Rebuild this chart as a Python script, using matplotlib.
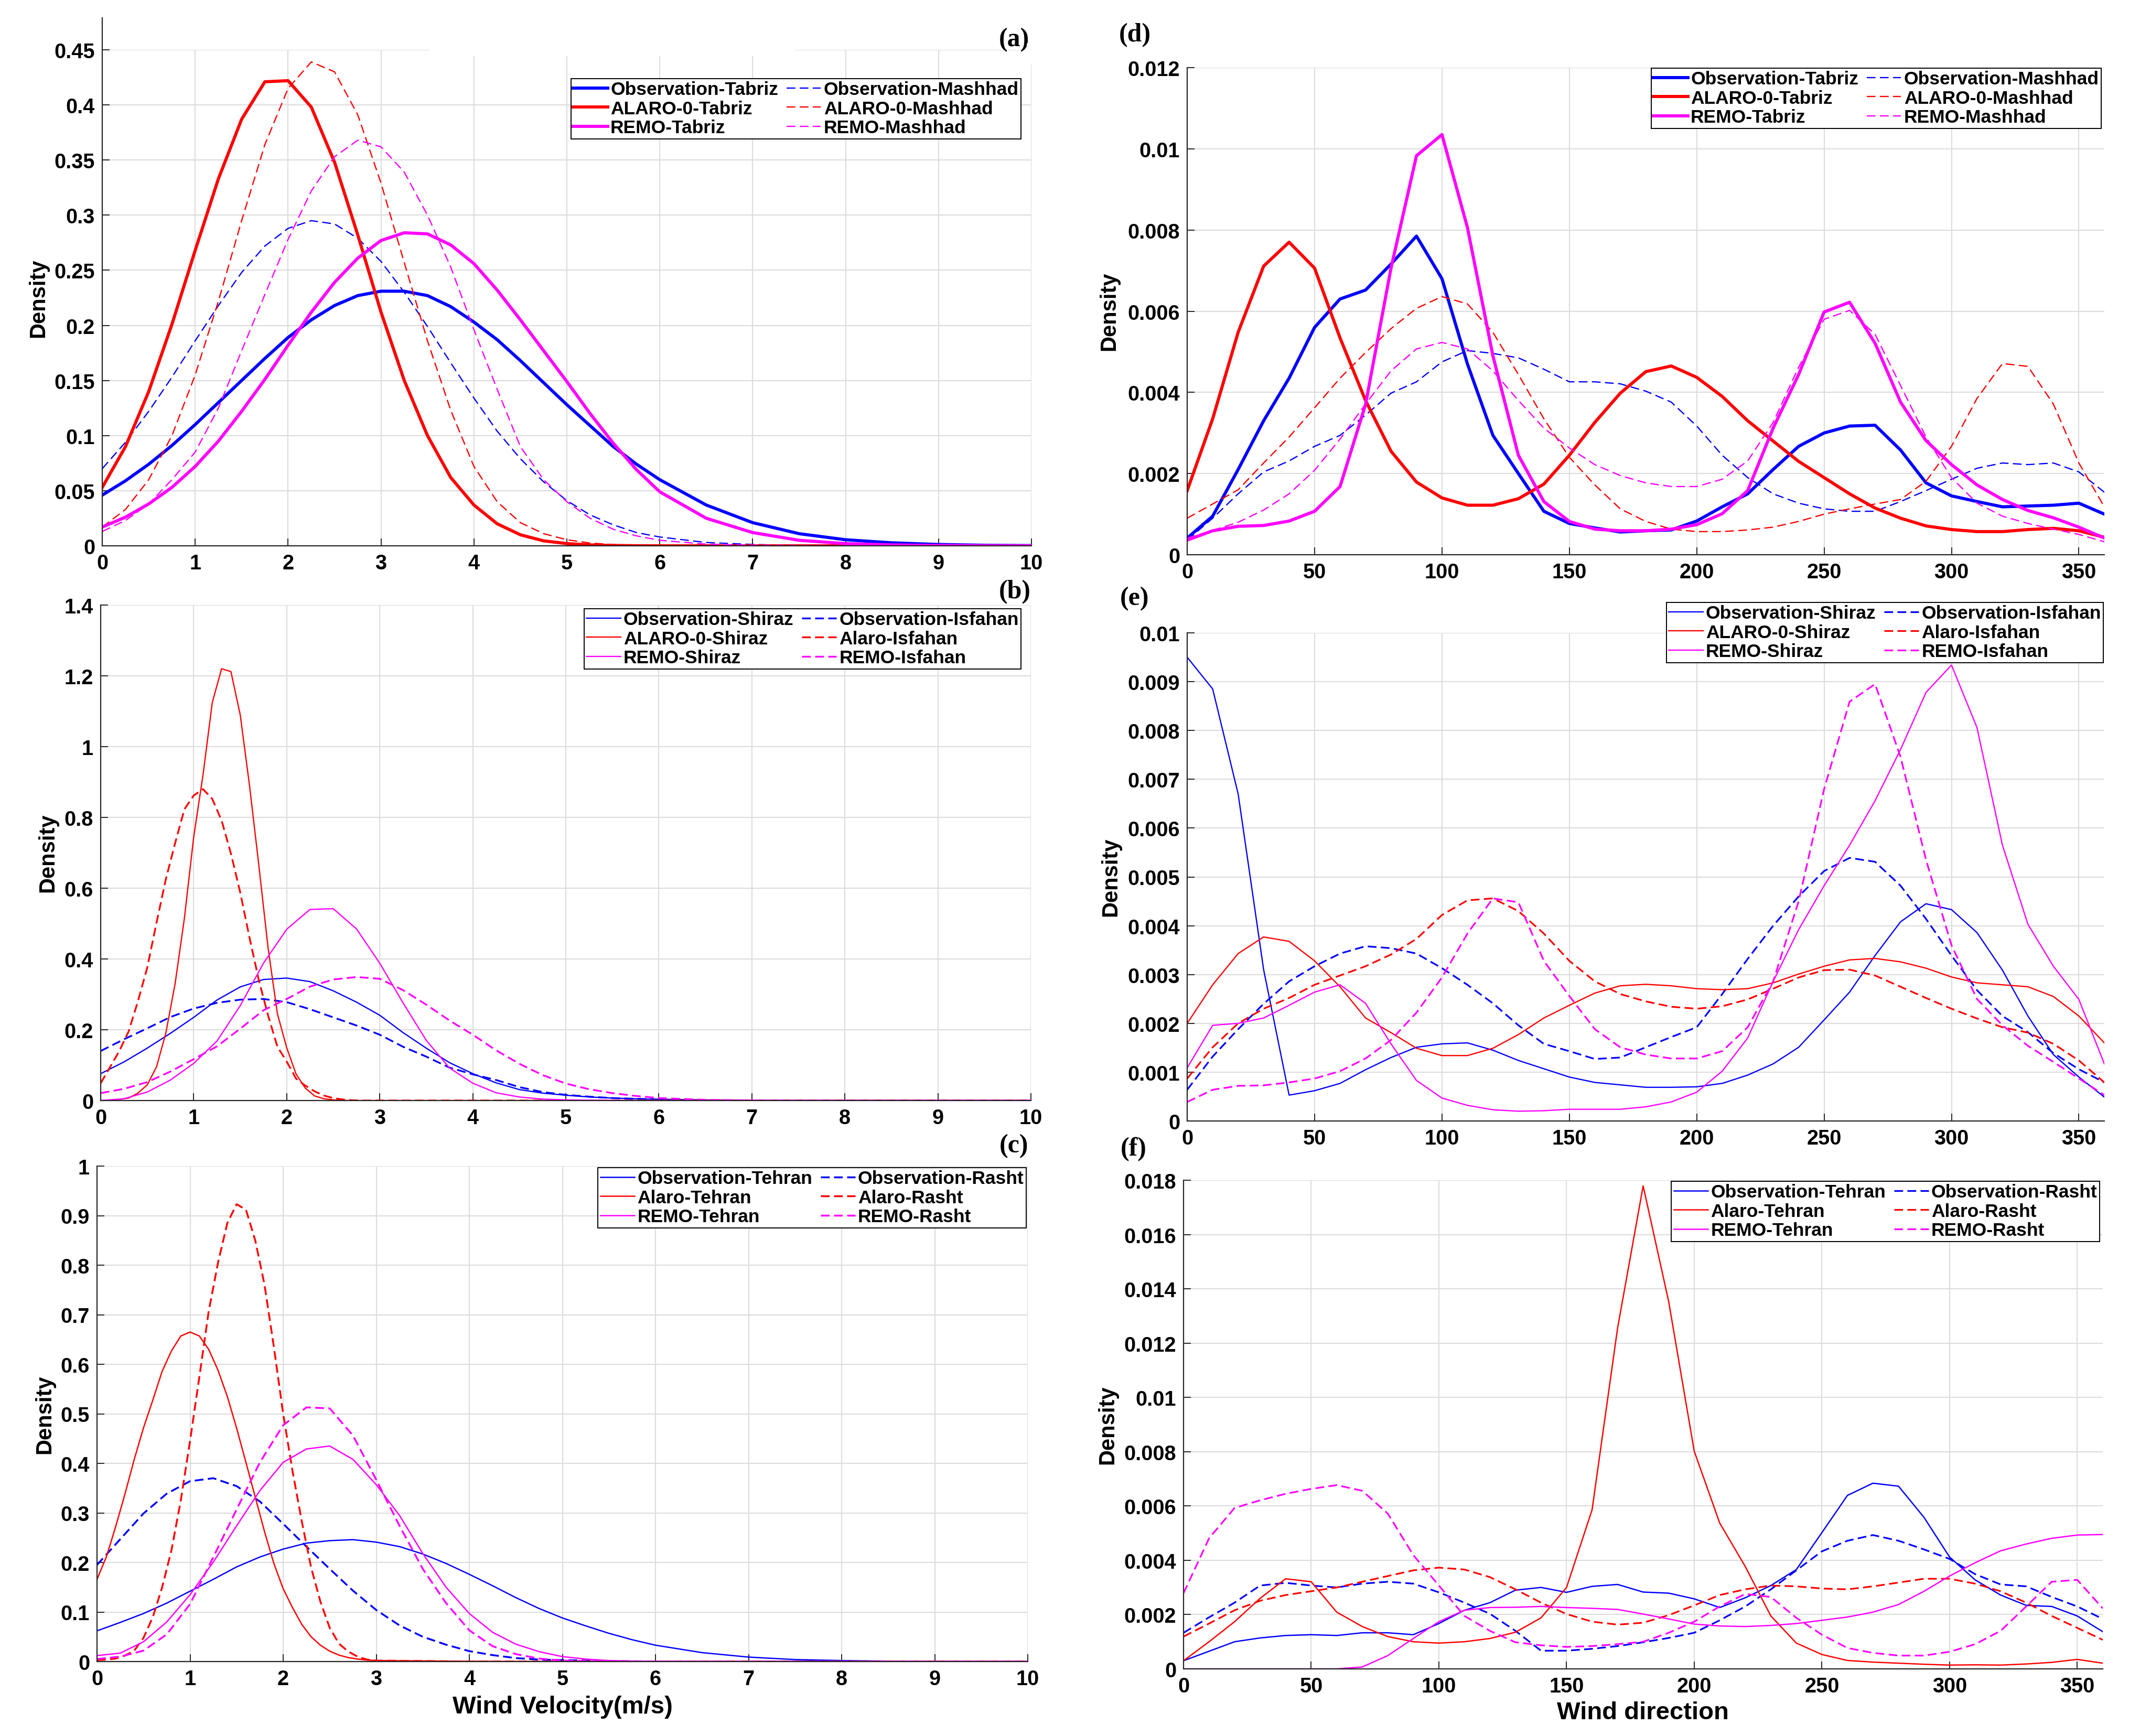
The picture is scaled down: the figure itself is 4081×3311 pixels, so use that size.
import matplotlib
matplotlib.use('Agg')
import matplotlib.pyplot as plt
from matplotlib.lines import Line2D
from matplotlib.patches import Rectangle
from matplotlib.ticker import MultipleLocator, FuncFormatter

# ---------------------------------------------------------------- data
# wind velocity grid (m/s)
VEL_X = [0, 0.25, 0.5, 0.75, 1, 1.25, 1.5, 1.75, 2, 2.25, 2.5, 2.75, 3,
         3.25, 3.5, 3.75, 4, 4.25, 4.5, 4.75, 5, 5.25, 5.5, 5.75, 6,
         6.5, 7, 7.5, 8, 8.5, 9, 9.5, 10]
VEL_FINE = [0, 0.1, 0.2, 0.3, 0.4, 0.5, 0.6, 0.7, 0.8, 0.9, 1.0, 1.1, 1.2,
            1.3, 1.4, 1.5, 1.6, 1.7, 1.8, 1.9, 2.0, 2.1, 2.2, 2.3, 2.4, 2.5,
            2.6, 2.7, 2.8, 2.9, 3.0, 4, 5, 6, 7, 8, 9, 10]
# wind direction grid (deg)
DIR_X = [0, 10, 20, 30, 40, 50, 60, 70, 80, 90, 100, 110, 120, 130, 140,
         150, 160, 170, 180, 190, 200, 210, 220, 230, 240, 250, 260, 270,
         280, 290, 300, 310, 320, 330, 340, 350, 360]

# (a) velocity, Tabriz / Mashhad
OBS_TABRIZ_V = [0.046, 0.059, 0.074, 0.091, 0.110, 0.130, 0.150, 0.170, 0.189,
                0.205, 0.218, 0.227, 0.231, 0.231, 0.227, 0.217, 0.203, 0.187,
                0.168, 0.148, 0.128, 0.109, 0.090, 0.074, 0.060, 0.037, 0.021,
                0.011, 0.0055, 0.0027, 0.0012, 0.0005, 0.0002]
OBS_MASHHAD_V = [0.070, 0.094, 0.122, 0.153, 0.186, 0.218, 0.248, 0.272, 0.288,
                 0.295, 0.292, 0.279, 0.258, 0.230, 0.199, 0.166, 0.134, 0.104,
                 0.079, 0.058, 0.041, 0.028, 0.019, 0.012, 0.008, 0.003, 0.0012,
                 0.0005, 0.0002, 0.0001, 0, 0, 0]
ALARO_TABRIZ_V = [0.053, 0.090, 0.140, 0.201, 0.268, 0.333, 0.387, 0.421, 0.422,
                  0.398, 0.348, 0.282, 0.212, 0.150, 0.100, 0.062, 0.037, 0.020,
                  0.010, 0.0045, 0.002, 0.0008, 0.0003, 0.0001, 0, 0, 0, 0, 0,
                  0, 0, 0, 0]
ALARO_MASHHAD_V = [0.017, 0.033, 0.060, 0.100, 0.155, 0.222, 0.295, 0.364, 0.415,
                   0.439, 0.430, 0.391, 0.329, 0.257, 0.186, 0.123, 0.072, 0.040,
                   0.021, 0.011, 0.0055, 0.0025, 0.0011, 0.0005, 0.0002, 0, 0, 0,
                   0, 0, 0, 0, 0]
REMO_TABRIZ_V = [0.017, 0.026, 0.038, 0.053, 0.072, 0.095, 0.122, 0.151, 0.182,
                 0.212, 0.239, 0.261, 0.277, 0.284, 0.283, 0.273, 0.256, 0.232,
                 0.205, 0.177, 0.149, 0.120, 0.093, 0.069, 0.049, 0.025, 0.012,
                 0.005, 0.002, 0.0008, 0.0003, 0.0001, 0]
REMO_MASHHAD_V = [0.013, 0.023, 0.038, 0.060, 0.085, 0.125, 0.177, 0.228, 0.278,
                  0.322, 0.353, 0.368, 0.362, 0.339, 0.300, 0.253, 0.196, 0.142,
                  0.090, 0.060, 0.040, 0.025, 0.015, 0.009, 0.005, 0.0015, 0.0005,
                  0.0002, 0, 0, 0, 0, 0]

# (b) velocity, Shiraz / Isfahan
OBS_SHIRAZ_V = [0.076, 0.109, 0.148, 0.190, 0.235, 0.284, 0.321, 0.342, 0.346,
                0.336, 0.310, 0.278, 0.241, 0.192, 0.148, 0.107, 0.076, 0.050,
                0.031, 0.021, 0.015, 0.010, 0.007, 0.005, 0.003, 0.001, 0.0003,
                0, 0, 0, 0, 0, 0]
OBS_ISFAHAN_V = [0.140, 0.173, 0.204, 0.236, 0.260, 0.276, 0.285, 0.287, 0.278,
                 0.258, 0.235, 0.212, 0.186, 0.152, 0.124, 0.093, 0.074, 0.058,
                 0.038, 0.024, 0.016, 0.011, 0.007, 0.005, 0.003, 0.001, 0.0003,
                 0, 0, 0, 0, 0, 0]
ALARO_SHIRAZ_V = [0, 0.001, 0.003, 0.007, 0.021, 0.044, 0.095, 0.19, 0.33, 0.515,
                  0.745, 0.92, 1.125, 1.22, 1.212, 1.09, 0.89, 0.665, 0.43, 0.245,
                  0.149, 0.075, 0.035, 0.013, 0.005, 0.002, 0.0005, 0, 0, 0, 0,
                  0, 0, 0, 0, 0, 0, 0]
ALARO_ISFAHAN_V = [0.049, 0.094, 0.140, 0.195, 0.280, 0.375, 0.502, 0.625, 0.727,
                   0.823, 0.862, 0.880, 0.852, 0.791, 0.698, 0.588, 0.460, 0.340,
                   0.240, 0.152, 0.110, 0.062, 0.042, 0.026, 0.014, 0.007, 0.003,
                   0.001, 0, 0, 0, 0, 0, 0, 0, 0, 0, 0]
REMO_SHIRAZ_V = [0.0, 0.005, 0.024, 0.058, 0.105, 0.168, 0.268, 0.388, 0.484,
                 0.540, 0.542, 0.485, 0.388, 0.276, 0.170, 0.092, 0.049, 0.022,
                 0.010, 0.004, 0.002, 0.001, 0.0005, 0, 0, 0, 0, 0, 0, 0, 0, 0, 0]
REMO_ISFAHAN_V = [0.021, 0.033, 0.052, 0.082, 0.117, 0.153, 0.203, 0.255, 0.287,
                  0.322, 0.342, 0.349, 0.344, 0.312, 0.271, 0.226, 0.186, 0.142,
                  0.104, 0.072, 0.048, 0.032, 0.021, 0.013, 0.007, 0.002, 0.0005,
                  0, 0, 0, 0, 0, 0]

# (c) velocity, Tehran / Rasht
OBS_TEHRAN_V = [0.062, 0.079, 0.097, 0.118, 0.142, 0.166, 0.191, 0.211, 0.227,
                0.239, 0.244, 0.246, 0.241, 0.232, 0.217, 0.198, 0.176, 0.153,
                0.129, 0.107, 0.088, 0.072, 0.057, 0.044, 0.033, 0.018, 0.009,
                0.004, 0.002, 0.0008, 0.0003, 0.0001, 0]
OBS_RASHT_V = [0.195, 0.247, 0.299, 0.339, 0.364, 0.370, 0.354, 0.323, 0.278,
               0.232, 0.187, 0.143, 0.104, 0.073, 0.050, 0.034, 0.021, 0.013,
               0.007, 0.004, 0.003, 0.002, 0.001, 0.0005, 0.0002, 0, 0, 0, 0,
               0, 0, 0, 0]
ALARO_TEHRAN_V = [0.166, 0.211, 0.272, 0.338, 0.408, 0.472, 0.528, 0.586, 0.627,
                  0.657, 0.665, 0.657, 0.630, 0.588, 0.535, 0.471, 0.402, 0.332,
                  0.262, 0.198, 0.147, 0.109, 0.075, 0.050, 0.033, 0.021, 0.013,
                  0.008, 0.005, 0.003, 0.002, 0.0005, 0, 0, 0, 0, 0, 0]
ALARO_RASHT_V = [0.003, 0.004, 0.006, 0.012, 0.022, 0.048, 0.090, 0.150, 0.225,
                 0.325, 0.446, 0.575, 0.707, 0.805, 0.885, 0.923, 0.912, 0.850,
                 0.760, 0.635, 0.500, 0.385, 0.283, 0.190, 0.121, 0.068, 0.036,
                 0.020, 0.010, 0.004, 0.002, 0, 0, 0, 0, 0, 0, 0]
REMO_TEHRAN_V = [0.012, 0.017, 0.040, 0.080, 0.135, 0.201, 0.274, 0.345, 0.402,
                 0.429, 0.435, 0.408, 0.357, 0.295, 0.218, 0.150, 0.097, 0.059,
                 0.035, 0.020, 0.010, 0.005, 0.002, 0.001, 0.0005, 0, 0, 0, 0,
                 0, 0, 0, 0]
REMO_RASHT_V = [0.005, 0.010, 0.022, 0.055, 0.116, 0.211, 0.307, 0.402, 0.477,
                0.513, 0.511, 0.456, 0.367, 0.274, 0.187, 0.118, 0.063, 0.031,
                0.015, 0.006, 0.002, 0.001, 0, 0, 0, 0, 0, 0, 0, 0, 0, 0, 0]

# (d) direction, Tabriz / Mashhad
OBS_TABRIZ_D = [0.00041, 0.00095, 0.0021, 0.0033, 0.00435, 0.0056, 0.0063,
                0.00652, 0.00716, 0.00785, 0.0068, 0.0047, 0.00294, 0.0020,
                0.00107, 0.00077, 0.00066, 0.00056, 0.00059, 0.00061, 0.00083,
                0.00118, 0.0015, 0.0021, 0.00267, 0.0030, 0.00317, 0.00319,
                0.00258, 0.00177, 0.00145, 0.00131, 0.00118, 0.0012, 0.00122,
                0.00127, 0.0010]
OBS_MASHHAD_D = [0.00036, 0.0009, 0.0015, 0.00204, 0.00231, 0.00267, 0.00294,
                 0.00344, 0.00398, 0.00426, 0.00475, 0.00503, 0.00496, 0.00485,
                 0.00457, 0.00426, 0.00426, 0.00421, 0.00403, 0.00376, 0.00317,
                 0.00245, 0.0019, 0.0015, 0.00127, 0.00113, 0.00107, 0.00107,
                 0.00131, 0.00158, 0.00186, 0.00213, 0.00226, 0.00222, 0.00226,
                 0.00204, 0.00154]
ALARO_TABRIZ_D = [0.00158, 0.00335, 0.00548, 0.00711, 0.0077, 0.00706, 0.00534,
                  0.0038, 0.00255, 0.00179, 0.0014, 0.00122, 0.00122, 0.00138,
                  0.00174, 0.00245, 0.00326, 0.00398, 0.00451, 0.00465, 0.00437,
                  0.0039, 0.0033, 0.0028, 0.0023, 0.0019, 0.0015, 0.00115,
                  0.0009, 0.00071, 0.00062, 0.00057, 0.00057, 0.00062, 0.00065,
                  0.00059, 0.00043]
ALARO_MASHHAD_D = [0.0009, 0.00125, 0.0016, 0.00226, 0.0029, 0.00362, 0.00435,
                   0.00498, 0.00557, 0.00607, 0.00636, 0.00618, 0.00548, 0.00444,
                   0.00335, 0.0024, 0.00172, 0.00113, 0.00082, 0.00063, 0.00057,
                   0.00057, 0.00061, 0.00068, 0.00082, 0.001, 0.00113, 0.00125,
                   0.00136, 0.00181, 0.00267, 0.00385, 0.00471, 0.00464, 0.00371,
                   0.00226, 0.00118]
REMO_TABRIZ_D = [0.00036, 0.00059, 0.0007, 0.00072, 0.00083, 0.00107, 0.00168,
                 0.0037, 0.00706, 0.00983, 0.01035, 0.00806, 0.0049, 0.00245,
                 0.00131, 0.00082, 0.00063, 0.00059, 0.00059, 0.00063, 0.00074,
                 0.00101, 0.00158, 0.00312, 0.00444, 0.00598, 0.00622, 0.00521,
                 0.00376, 0.00281, 0.00222, 0.00172, 0.00136, 0.00109, 0.00091,
                 0.00068, 0.00041]
REMO_MASHHAD_D = [0.00041, 0.0006, 0.0008, 0.0011, 0.0015, 0.00208, 0.00285,
                  0.00371, 0.00453, 0.00507, 0.00523, 0.00507, 0.00453, 0.0038,
                  0.00312, 0.00263, 0.00222, 0.00195, 0.00177, 0.00168, 0.00168,
                  0.00186, 0.00231, 0.00326, 0.00462, 0.0058, 0.00602, 0.00543,
                  0.00417, 0.0029, 0.0019, 0.00127, 0.00095, 0.00077, 0.00063,
                  0.0005, 0.00032]

# (e) direction, Shiraz / Isfahan
OBS_SHIRAZ_D = [0.0095, 0.00885, 0.0067, 0.0031, 0.00053, 0.00062, 0.00077,
                0.00105, 0.0013, 0.00151, 0.00158, 0.0016, 0.00145, 0.00124,
                0.00107, 0.0009, 0.00079, 0.00074, 0.00069, 0.00069, 0.0007,
                0.00077, 0.00094, 0.00117, 0.00151, 0.00207, 0.00264, 0.00339,
                0.00408, 0.00445, 0.00433, 0.00386, 0.00309, 0.00215, 0.00136,
                0.0009, 0.00049]
OBS_ISFAHAN_D = [0.00064, 0.00132, 0.00188, 0.0024, 0.00286, 0.00317, 0.00343,
                 0.00358, 0.00354, 0.00343, 0.00313, 0.00279, 0.00241, 0.00196,
                 0.00158, 0.00143, 0.00127, 0.0013, 0.00151, 0.00172, 0.00192,
                 0.0026, 0.00332, 0.004, 0.0046, 0.00512, 0.00539, 0.00531,
                 0.00482, 0.00414, 0.00339, 0.00268, 0.00215, 0.00182, 0.00139,
                 0.00106, 0.00079]
ALARO_SHIRAZ_D = [0.002, 0.00279, 0.00343, 0.00377, 0.00368, 0.00328, 0.00275,
                  0.00211, 0.00181, 0.00149, 0.00134, 0.00134, 0.00149, 0.00177,
                  0.00211, 0.00237, 0.00262, 0.00277, 0.0028, 0.00277, 0.00271,
                  0.00269, 0.00271, 0.00283, 0.00301, 0.00317, 0.0033, 0.00333,
                  0.00326, 0.00313, 0.00295, 0.00283, 0.00279, 0.00275, 0.00255,
                  0.00215, 0.0016]
ALARO_ISFAHAN_D = [0.00087, 0.00151, 0.002, 0.0023, 0.00252, 0.00279, 0.00298,
                   0.00317, 0.00341, 0.00373, 0.00422, 0.00452, 0.00456, 0.0043,
                   0.00384, 0.00328, 0.00286, 0.0026, 0.00245, 0.00234, 0.0023,
                   0.00235, 0.00249, 0.00271, 0.00294, 0.00309, 0.0031, 0.00298,
                   0.00275, 0.00252, 0.0023, 0.0021, 0.00192, 0.00181, 0.00158,
                   0.00124, 0.00079]
REMO_SHIRAZ_D = [0.00109, 0.00196, 0.002, 0.00211, 0.00237, 0.00264, 0.00279,
                 0.00241, 0.00158, 0.00083, 0.00047, 0.00032, 0.00023, 0.0002,
                 0.00021, 0.00024, 0.00024, 0.00024, 0.00029, 0.00039, 0.00059,
                 0.00102, 0.0017, 0.00286, 0.00392, 0.00482, 0.00565, 0.00656,
                 0.00761, 0.00878, 0.00934, 0.00806, 0.00565, 0.00403, 0.00317,
                 0.00249, 0.00117]
REMO_ISFAHAN_D = [0.00039, 0.00064, 0.00072, 0.00073, 0.00079, 0.00087, 0.00102,
                  0.00128, 0.00166, 0.00222, 0.00294, 0.00384, 0.00456, 0.00448,
                  0.00328, 0.00256, 0.00188, 0.00151, 0.00136, 0.00128, 0.00128,
                  0.00143, 0.00192, 0.00286, 0.0045, 0.0068, 0.00859, 0.00895,
                  0.00746, 0.00535, 0.0036, 0.0025, 0.00196, 0.00154, 0.00121,
                  0.00087, 0.00053]

# (f) direction, Tehran / Rasht
OBS_TEHRAN_D = [0.0003, 0.00065, 0.001, 0.00114, 0.00123, 0.00126, 0.00123,
                0.00133, 0.00133, 0.00126, 0.00167, 0.00216, 0.00244, 0.0029,
                0.003, 0.00282, 0.00304, 0.00311, 0.00283, 0.00279, 0.00258,
                0.00226, 0.00262, 0.00307, 0.00366, 0.00502, 0.00639, 0.00684,
                0.00673, 0.00558, 0.00412, 0.00328, 0.00272, 0.00234, 0.0023,
                0.00195, 0.00137]
OBS_RASHT_D = [0.00133, 0.0019, 0.00244, 0.00307, 0.00317, 0.00307, 0.003,
               0.00314, 0.00321, 0.00314, 0.00282, 0.00244, 0.00203, 0.0014,
               0.00067, 0.00067, 0.00074, 0.00084, 0.00098, 0.00114, 0.00133,
               0.00179, 0.0023, 0.00293, 0.00363, 0.00433, 0.00472, 0.00493,
               0.00472, 0.0044, 0.00405, 0.00349, 0.00311, 0.00304, 0.00265,
               0.0023, 0.00184]
ALARO_TEHRAN_D = [0.0003, 0.001, 0.00174, 0.0026, 0.00332, 0.00321, 0.00209,
                  0.00156, 0.00119, 0.001, 0.00095, 0.001, 0.00112, 0.00135,
                  0.00188, 0.003, 0.00586, 0.01256, 0.01779, 0.01353, 0.00802,
                  0.00537, 0.00377, 0.00195, 0.00095, 0.00053, 0.00031, 0.00025,
                  0.00021, 0.00017, 0.00014, 0.00015, 0.00014, 0.00018, 0.00024,
                  0.00035, 0.00021]
ALARO_RASHT_D = [0.00119, 0.00167, 0.00216, 0.00251, 0.00272, 0.00286, 0.003,
                 0.00321, 0.00342, 0.00363, 0.00373, 0.00366, 0.00338, 0.00293,
                 0.00244, 0.00202, 0.00174, 0.00163, 0.0017, 0.00198, 0.00234,
                 0.00272, 0.00293, 0.00307, 0.00304, 0.00296, 0.00293, 0.00304,
                 0.00318, 0.00332, 0.00332, 0.00314, 0.00286, 0.00244, 0.00195,
                 0.00151, 0.00107]
REMO_TEHRAN_D = [0, 0, 0, 0, 0, 0, 0, 0.00007, 0.00049, 0.00112, 0.00174,
                 0.00216, 0.00226, 0.00227, 0.0023, 0.00226, 0.00223, 0.00219,
                 0.00202, 0.00184, 0.00165, 0.00158, 0.00156, 0.0016, 0.00167,
                 0.00179, 0.00191, 0.00209, 0.00237, 0.00286, 0.00342, 0.00391,
                 0.00435, 0.0046, 0.00481, 0.00493, 0.00495]
REMO_RASHT_D = [0.00279, 0.00481, 0.00593, 0.00621, 0.00645, 0.00663, 0.00677,
                0.00656, 0.00572, 0.00419, 0.00307, 0.00195, 0.0014, 0.00098,
                0.00087, 0.00081, 0.00084, 0.00091, 0.001, 0.00133, 0.00174,
                0.0023, 0.00276, 0.00265, 0.00188, 0.00126, 0.00077, 0.00059,
                0.00049, 0.00049, 0.00063, 0.00091, 0.0014, 0.0023, 0.00321,
                0.00328, 0.00223]

# ---------------------------------------------------------------- style
W, H = 4081, 3312
BLUE, RED, MAG = (0, 0, 1), (1, 0, 0), (1, 0, 1)
DASH = (12, 6)
SANS = ['Liberation Sans', 'DejaVu Sans']
SERIF = ['Liberation Serif', 'DejaVu Serif']

plt.rcParams['font.family'] = SANS
plt.rcParams['lines.scale_dashes'] = False


def fig_box(left, top, right, bottom):
    """pixel box -> figure fraction rect."""
    return [left / W, 1 - bottom / H, (right - left) / W, (bottom - top) / H]


def fx(px):
    return px / W


def fy(py):
    return 1 - py / H


def g_fmt(v, pos):
    return '%g' % round(v, 6)


def draw_panel(fig, box, lines, xlim, ylim, xstep, ystep, lw_solid, lw_dash,
               leg_anchor):
    """One density panel: lines are (x, y, color, dashed, label) in plot order."""
    ax = fig.add_axes(fig_box(*box))
    handles = []
    for x, y, color, dashed, label in lines:
        if dashed:
            h, = ax.plot(x, y, color=color, lw=lw_dash, ls=(0, DASH),
                         label=label)
        else:
            h, = ax.plot(x, y, color=color, lw=lw_solid, ls='-', label=label)
        handles.append(h)
    ax.set_xlim(*xlim)
    ax.set_ylim(*ylim)
    ax.xaxis.set_major_locator(MultipleLocator(xstep))
    ax.yaxis.set_major_locator(MultipleLocator(ystep))
    ax.xaxis.set_major_formatter(FuncFormatter(g_fmt))
    ax.yaxis.set_major_formatter(FuncFormatter(g_fmt))
    ax.set_axisbelow(True)
    ax.grid(True, color='#dcdcdc', lw=1.5)
    for s in ('top', 'right'):
        ax.spines[s].set_visible(False)
    for s in ('left', 'bottom'):
        ax.spines[s].set_linewidth(1.6)
        ax.spines[s].set_color('#262626')
    ax.tick_params(direction='in', length=10, width=1.4, color='#262626',
                   labelsize=28.5, pad=10, top=False, right=False)
    for t in ax.get_xticklabels() + ax.get_yticklabels():
        t.set_fontweight('bold')

    # MATLAB plot order is row-wise in the legend; matplotlib fills columns
    order = [0, 2, 4, 1, 3, 5]
    leg = ax.legend([handles[i] for i in order],
                    [handles[i].get_label() for i in order],
                    loc='upper right', bbox_to_anchor=(fx(leg_anchor[0]),
                                                       fy(leg_anchor[1])),
                    bbox_transform=fig.transFigure, ncol=2,
                    prop={'weight': 'bold', 'size': 25.5}, frameon=True,
                    fancybox=False, framealpha=1, edgecolor='black',
                    borderpad=0.12, labelspacing=0.1, handlelength=1.85,
                    handletextpad=0.15, columnspacing=0.45, borderaxespad=0)
    leg.get_frame().set_linewidth(1.4)
    return ax


PANELS = [
    dict(name='(a)', box=(195, 96, 1967, 1042), xlim=(0, 10), ylim=(0, 0.45),
         xstep=1, ystep=0.05, lw=(4.3, 1.7), leg=(1947, 151),
         dens=(73, 569), tag=(1934, 76),
         lines=[(VEL_X, OBS_TABRIZ_V, BLUE, False, 'Observation-Tabriz'),
                (VEL_X, OBS_MASHHAD_V, BLUE, True, 'Observation-Mashhad'),
                (VEL_X, ALARO_TABRIZ_V, RED, False, 'ALARO-0-Tabriz'),
                (VEL_X, ALARO_MASHHAD_V, RED, True, 'ALARO-0-Mashhad'),
                (VEL_X, REMO_TABRIZ_V, MAG, False, 'REMO-Tabriz'),
                (VEL_X, REMO_MASHHAD_V, MAG, True, 'REMO-Mashhad')]),
    dict(name='(b)', box=(192, 1155, 1966, 2100), xlim=(0, 10), ylim=(0, 1.4),
         xstep=1, ystep=0.2, lw=(1.7, 2.4), leg=(1947, 1162),
         dens=(91, 1627), tag=(1935, 1129),
         lines=[(VEL_X, OBS_SHIRAZ_V, BLUE, False, 'Observation-Shiraz'),
                (VEL_X, OBS_ISFAHAN_V, BLUE, True, 'Observation-Isfahan'),
                (VEL_FINE, ALARO_SHIRAZ_V, RED, False, 'ALARO-0-Shiraz'),
                (VEL_FINE, ALARO_ISFAHAN_V, RED, True, 'Alaro-Isfahan'),
                (VEL_X, REMO_SHIRAZ_V, MAG, False, 'REMO-Shiraz'),
                (VEL_X, REMO_ISFAHAN_V, MAG, True, 'REMO-Isfahan')]),
    dict(name='(c)', box=(185, 2225, 1960, 3170), xlim=(0, 10), ylim=(0, 1.0),
         xstep=1, ystep=0.1, lw=(1.8, 2.5), leg=(1957, 2228),
         dens=(85, 2698), tag=(1934, 2186),
         lines=[(VEL_X, OBS_TEHRAN_V, BLUE, False, 'Observation-Tehran'),
                (VEL_X, OBS_RASHT_V, BLUE, True, 'Observation-Rasht'),
                (VEL_FINE, ALARO_TEHRAN_V, RED, False, 'Alaro-Tehran'),
                (VEL_FINE, ALARO_RASHT_V, RED, True, 'Alaro-Rasht'),
                (VEL_X, REMO_TEHRAN_V, MAG, False, 'REMO-Tehran'),
                (VEL_X, REMO_RASHT_V, MAG, True, 'REMO-Rasht')]),
    dict(name='(d)', box=(2264, 130, 4013, 1059), xlim=(0, 360),
         ylim=(0, 0.012), xstep=50, ystep=0.002, lw=(4.3, 1.7),
         leg=(4007, 131), dens=(2115, 594), tag=(2164, 67),
         lines=[(DIR_X, OBS_TABRIZ_D, BLUE, False, 'Observation-Tabriz'),
                (DIR_X, OBS_MASHHAD_D, BLUE, True, 'Observation-Mashhad'),
                (DIR_X, ALARO_TABRIZ_D, RED, False, 'ALARO-0-Tabriz'),
                (DIR_X, ALARO_MASHHAD_D, RED, True, 'ALARO-0-Mashhad'),
                (DIR_X, REMO_TABRIZ_D, MAG, False, 'REMO-Tabriz'),
                (DIR_X, REMO_MASHHAD_D, MAG, True, 'REMO-Mashhad')]),
    dict(name='(e)', box=(2264, 1208, 4013, 2139), xlim=(0, 360),
         ylim=(0, 0.01), xstep=50, ystep=0.001, lw=(1.7, 2.3),
         leg=(4011, 1150), dens=(2118, 1673), tag=(2164, 1142),
         lines=[(DIR_X, OBS_SHIRAZ_D, BLUE, False, 'Observation-Shiraz'),
                (DIR_X, OBS_ISFAHAN_D, BLUE, True, 'Observation-Isfahan'),
                (DIR_X, ALARO_SHIRAZ_D, RED, False, 'ALARO-0-Shiraz'),
                (DIR_X, ALARO_ISFAHAN_D, RED, True, 'Alaro-Isfahan'),
                (DIR_X, REMO_SHIRAZ_D, MAG, False, 'REMO-Shiraz'),
                (DIR_X, REMO_ISFAHAN_D, MAG, True, 'REMO-Isfahan')]),
    dict(name='(f)', box=(2257, 2252, 4010, 3184), xlim=(0, 360),
         ylim=(0, 0.018), xstep=50, ystep=0.002, lw=(1.8, 2.3),
         leg=(4004, 2254), dens=(2112, 2718), tag=(2162, 2192),
         lines=[(DIR_X, OBS_TEHRAN_D, BLUE, False, 'Observation-Tehran'),
                (DIR_X, OBS_RASHT_D, BLUE, True, 'Observation-Rasht'),
                (DIR_X, ALARO_TEHRAN_D, RED, False, 'Alaro-Tehran'),
                (DIR_X, ALARO_RASHT_D, RED, True, 'Alaro-Rasht'),
                (DIR_X, REMO_TEHRAN_D, MAG, False, 'REMO-Tehran'),
                (DIR_X, REMO_RASHT_D, MAG, True, 'REMO-Rasht')]),
]

fig = plt.figure(figsize=(W / 100, H / 100), dpi=100)
fig.patch.set_facecolor('white')

for p in PANELS:
    draw_panel(fig, p['box'], p['lines'], p['xlim'], p['ylim'], p['xstep'],
               p['ystep'], p['lw'][0], p['lw'][1], p['leg'])
    fig.text(fx(p['dens'][0]), fy(p['dens'][1]), 'Density', rotation=90,
             ha='center', va='center', fontsize=30, fontweight='bold')
    fig.text(fx(p['tag'][0]), fy(p['tag'][1]), p['name'], family=SERIF,
             ha='center', va='center', fontsize=36, fontweight='bold')

fig.text(fx(1073), fy(3256), 'Wind Velocity(m/s)', ha='center', va='center',
         fontsize=34, fontweight='bold')
fig.text(fx(3133), fy(3267), 'Wind direction', ha='center', va='center',
         fontsize=34, fontweight='bold')

# the left axis line of (a) runs a little above its top tick in the source
fig.add_artist(Line2D([fx(195), fx(195)], [fy(96), fy(35)],
                      transform=fig.transFigure, color='#262626', lw=1.6))
# pasted-over white strips at the top of panel (a)
fig.add_artist(Rectangle((fx(820), fy(108)), (1516 - 820) / W, 24 / H,
                         transform=fig.transFigure, facecolor='white',
                         edgecolor='none', zorder=5))
fig.add_artist(Rectangle((fx(1958), fy(124)), 20 / W, 40 / H,
                         transform=fig.transFigure, facecolor='white',
                         edgecolor='none', zorder=5))

fig.savefig('out.png', dpi=100, facecolor='white')
